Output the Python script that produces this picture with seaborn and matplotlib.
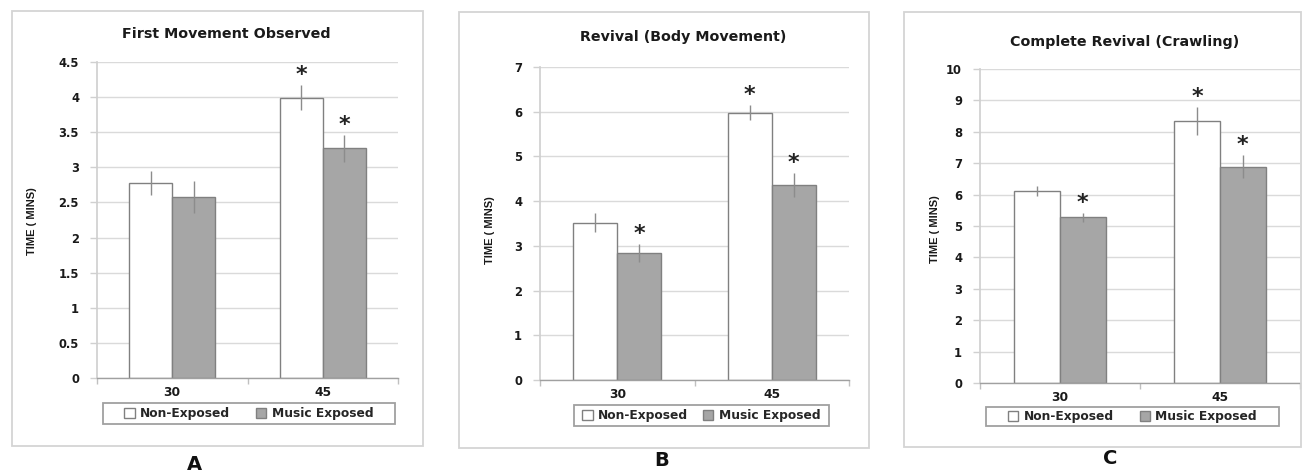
import matplotlib
matplotlib.use('Agg')
import numpy as np
import pandas as pd
import matplotlib.pyplot as plt
import seaborn as sns
from matplotlib.patches import Rectangle, Patch
from matplotlib.ticker import FuncFormatter

# ---- data ----
times = ['30', '45']
conditions = ['Non-Exposed', 'Music Exposed']

# A - First Movement Observed
first_non = [2.78, 3.99]
first_non_err = [0.17, 0.18]
first_music = [2.58, 3.27]
first_music_err = [0.23, 0.19]
first_sig_non = [False, True]
first_sig_music = [False, True]

# B - Revival (Body Movement)
body_non = [3.52, 5.98]
body_non_err = [0.21, 0.16]
body_music = [2.84, 4.36]
body_music_err = [0.21, 0.27]
body_sig_non = [False, True]
body_sig_music = [True, True]

# C - Complete Revival (Crawling)
crawl_non = [6.11, 8.35]
crawl_non_err = [0.16, 0.44]
crawl_music = [5.28, 6.89]
crawl_music_err = [0.14, 0.37]
crawl_sig_non = [False, True]
crawl_sig_music = [True, True]

titles = ['First Movement Observed', 'Revival (Body Movement)', 'Complete Revival (Crawling)']
panel_letters = ['A', 'B', 'C']
y_max = [4.5, 7, 10]
y_step = [0.5, 1, 1]

# ---- layout (pixels of a 1303x472 canvas) ----
W, H = 1303, 472
axes_px = [(97, 62, 398, 378), (540, 67, 849, 380), (980, 69, 1300, 383)]
frame_px = [(12, 11, 423, 446), (459, 12, 869, 448), (904, 12, 1301, 447)]
legend_px = [(103, 403, 395, 424), (574, 405, 829, 426), (986, 407, 1279, 426)]
legend_gap = [2.1, 1.2, 2.1]
title_px = [(226, 34), (683, 37), (1125, 42)]
ylabel_px = [(32, 221), (490, 230), (935, 229)]
letter_px = [(194, 464), (662, 461), (1110, 458)]

FILL = {'Non-Exposed': '#FFFFFF', 'Music Exposed': '#A6A6A6'}
EDGE = '#808080'

sns.set_theme(style='white')
plt.rcParams['font.family'] = ['DejaVu Sans']
plt.rcParams['font.weight'] = 'bold'

fig = plt.figure(figsize=(W / 100, H / 100), dpi=100)


def fx(px):
    return px / W


def fy(py):
    return 1 - py / H


def box(x0, y0, x1, y1, color, lw):
    fig.add_artist(Rectangle((fx(x0), fy(y1)), fx(x1) - fx(x0), fy(y0) - fy(y1),
                             transform=fig.transFigure, fill=False,
                             edgecolor=color, lw=lw))


panels = [
    (first_non, first_non_err, first_music, first_music_err, first_sig_non, first_sig_music),
    (body_non, body_non_err, body_music, body_music_err, body_sig_non, body_sig_music),
    (crawl_non, crawl_non_err, crawl_music, crawl_music_err, crawl_sig_non, crawl_sig_music),
]

for i, (non, non_err, mus, mus_err, sig_non, sig_mus) in enumerate(panels):
    # panel frame
    box(*frame_px[i], '#D4D4D4', 1.3)

    l, t, r, b = axes_px[i]
    ax = fig.add_axes([fx(l), fy(b), fx(r) - fx(l), fy(t) - fy(b)])

    df = pd.DataFrame({
        'time': times * 2,
        'group': [conditions[0]] * 2 + [conditions[1]] * 2,
        'value': non + mus,
        'err': non_err + mus_err,
        'sig': sig_non + sig_mus,
    })

    sns.barplot(data=df, x='time', y='value', hue='group', order=times,
                hue_order=conditions, palette=FILL, width=0.57,
                edgecolor=EDGE, linewidth=1.0, legend=False, ax=ax, zorder=2)

    # error bars + significance stars, placed on the bars seaborn drew
    for cont, cond in zip(ax.containers, conditions):
        sub = df[df['group'] == cond]
        for bar, (_, row) in zip(cont, sub.iterrows()):
            xc = bar.get_x() + bar.get_width() / 2
            ax.errorbar(xc, row['value'], yerr=row['err'], fmt='none',
                        ecolor='#8C8C8C', elinewidth=1.0, capsize=0, zorder=3)
            if row['sig']:
                ax.annotate('*', xy=(xc, row['value'] + row['err']),
                            xytext=(0, 0), textcoords='offset points',
                            ha='center', va='bottom', fontsize=16,
                            fontweight='bold', color='#222222')

    ax.set_xlim(-0.5, 1.5)
    ax.set_ylim(0, y_max[i])
    ax.set_yticks(np.arange(0, y_max[i] + y_step[i] / 2, y_step[i]))
    ax.yaxis.set_major_formatter(FuncFormatter(lambda v, p: f'{v:g}'))
    ax.grid(axis='y', color='#DADADA', lw=1.0, zorder=0)
    ax.set_axisbelow(True)
    ax.set_xlabel('')
    ax.set_ylabel('')

    for side in ['top', 'right']:
        ax.spines[side].set_visible(False)
    ax.spines['left'].set_color('#D0D0D0')
    ax.spines['bottom'].set_color('#A0A0A0')
    ax.spines['bottom'].set_linewidth(1.0)

    ax.tick_params(axis='y', length=5, width=1, color='#D0D0D0', pad=8,
                   labelsize=8.3, labelcolor='#1A1A1A', left=True)
    ax.tick_params(axis='x', length=0, pad=6, labelsize=8.8, labelcolor='#1A1A1A')
    ax.set_xticks([-0.5, 0.5, 1.5], minor=True)
    ax.tick_params(axis='x', which='minor', length=4, color='#C0C0C0', bottom=True)
    for lab in ax.get_xticklabels() + ax.get_yticklabels():
        lab.set_fontweight('bold')

    # legend: own box under the axis, entries centred inside it
    lx0, ly0, lx1, ly1 = legend_px[i]
    box(lx0, ly0, lx1, ly1, '#A0A0A0', 1.3)
    handles = [Patch(facecolor=FILL[c], edgecolor=EDGE, label=c) for c in conditions]
    ax.legend(handles=handles, ncol=2, loc='center',
              bbox_to_anchor=(fx((lx0 + lx1) / 2), fy((ly0 + ly1) / 2)),
              bbox_transform=fig.transFigure, frameon=False,
              handlelength=0.85, handleheight=0.85, handletextpad=0.45,
              columnspacing=legend_gap[i], borderpad=0.1,
              prop={'size': 8.8, 'weight': 'bold'})

    tx, ty = title_px[i]
    fig.text(fx(tx), fy(ty), titles[i], ha='center', va='center',
             fontsize=10.3, fontweight='bold', color='#1A1A1A')

    yx, yy = ylabel_px[i]
    fig.text(fx(yx), fy(yy), 'TIME ( MINS)', ha='center', va='center',
             rotation=90, fontsize=8, fontweight='bold', color='#1A1A1A',
             family=['Liberation Sans', 'DejaVu Sans'])

    px_, py_ = letter_px[i]
    fig.text(fx(px_), fy(py_), panel_letters[i], ha='center', va='center',
             fontsize=14, fontweight='bold', color='#111111')

fig.savefig('out.png', dpi=100, facecolor='white')
